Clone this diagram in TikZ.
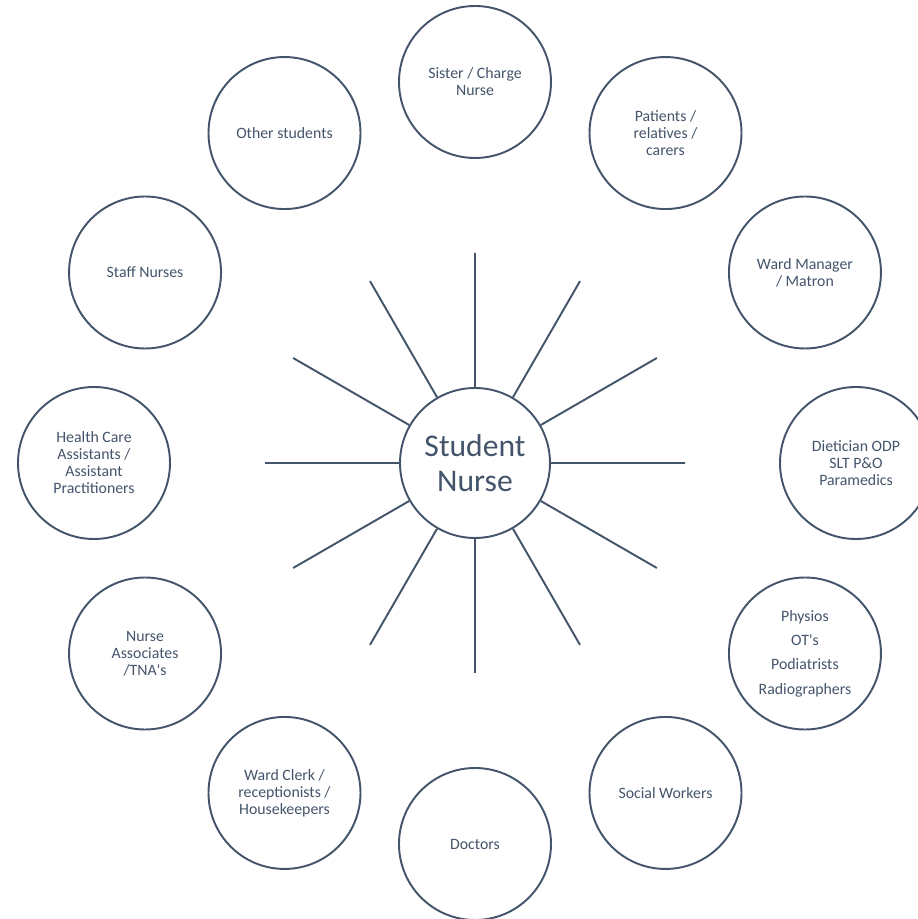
\documentclass[tikz,border=0pt]{standalone}
\usepackage{fontspec}
\setmainfont{Carlito}
\usetikzlibrary{positioning}
\definecolor{slate}{HTML}{44546A}
\tikzset{
  role/.style = {circle, draw=slate, line width=1.1pt, text=slate, align=center,
    minimum size=3.04cm, inner sep=1pt, font=\fontsize{9}{9.7}\selectfont},
  hub/.style = {role, minimum size=3cm, font=\fontsize{18}{20}\selectfont},
  spoke/.style = {draw=slate, line width=1.1pt}
}

\begin{document}
\begin{tikzpicture}
\useasboundingbox (0,0) rectangle (18.36,18.38);
\begin{scope}[shift={(9.5,9.12)}]
\node [hub] (sn) at (0,0) {Student\\Nurse};

% the ring of people round the student
\node [role] (sister) at (90:7.62) {Sister / Charge\\Nurse};
\node [role] (patients) at (60:7.62) {Patients /\\relatives /\\carers};
\node [role] (manager) at (30:7.62) {Ward Manager\\/ Matron};
\node [role] (dietician) at (0:7.62) {Dietician ODP\\SLT P\&O\\Paramedics};
\node [role, font=\fontsize{9}{13.8}\selectfont] (physios) at (-30:7.62)
  {Physios\\OT\textquotesingle s\\Podiatrists\\Radiographers};
\node [role] (social) at (-60:7.62) {Social Workers};
\node [role] (doctors) at (-90:7.62) {Doctors};
\node [role] (clerk) at (-120:7.62) {Ward Clerk /\\receptionists /\\Housekeepers};
\node [role] (associates) at (-150:7.62) {Nurse\\Associates\\/TNA\textquotesingle s};
\node [role] (hca) at (180:7.62) {Health Care\\Assistants /\\Assistant\\Practitioners};
\node [role] (staff) at (150:7.62) {Staff Nurses};
\node [role] (students) at (120:7.62) {Other students};

% free ends of the spokes
\coordinate (e0) at (0:4.2);
\coordinate (e30) at (30:4.2);
\coordinate (e60) at (60:4.2);
\coordinate (e90) at (90:4.2);
\coordinate (e120) at (120:4.2);
\coordinate (e150) at (150:4.2);
\coordinate (e180) at (180:4.2);
\coordinate (e210) at (210:4.2);
\coordinate (e240) at (240:4.2);
\coordinate (e270) at (270:4.2);
\coordinate (e300) at (300:4.2);
\coordinate (e330) at (330:4.2);

\draw [spoke] (sn) -- (e0) (sn) -- (e30) (sn) -- (e60) (sn) -- (e90)
  (sn) -- (e120) (sn) -- (e150) (sn) -- (e180) (sn) -- (e210)
  (sn) -- (e240) (sn) -- (e270) (sn) -- (e300) (sn) -- (e330);
\end{scope}
\end{tikzpicture}
\end{document}
